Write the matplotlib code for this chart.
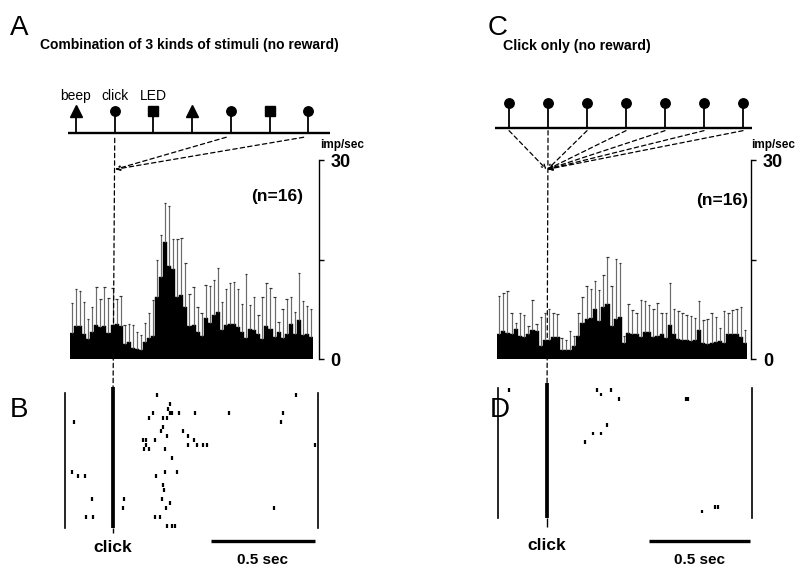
import numpy as np
import matplotlib
matplotlib.use("Agg")
import matplotlib.pyplot as plt
from matplotlib.patches import ConnectionPatch

plt.rcParams['font.family'] = ['Liberation Sans', 'DejaVu Sans']

# ---------------- data ----------------
BIN = 0.02  # s
# stimulus sequences (order of presentation)
stim_A = ['beep', 'click', 'LED', 'beep', 'click', 'LED', 'click']
stim_C = ['click'] * 7
stim_labels_A = ['beep', 'click', 'LED']

# mean firing rate (imp/sec) per 20-ms bin, panel A (combination) and C (click only)
rate_A = [3.9, 5.0, 5.0, 3.8, 3.0, 4.1, 5.1, 4.8, 4.9, 3.9, 5.1, 5.3, 5.0, 2.3, 2.6, 1.6, 1.5, 1.4, 2.5, 3.1, 3.4,
          9.3, 12.4, 17.7, 14.0, 13.6, 9.4, 9.6, 7.8, 5.0, 5.1, 4.1, 3.4, 6.2, 5.4, 6.6, 7.1, 4.3, 5.1, 5.3, 5.3, 4.8,
          4.0, 3.1, 4.5, 4.4, 3.8, 3.0, 5.0, 4.5, 3.3, 4.1, 3.1, 3.8, 5.3, 3.8, 5.9, 3.6, 3.8, 3.3]
upper_A = [8.4, 10.5, 10.3, 8.6, 6.1, 7.8, 10.8, 9.0, 10.8, 9.2, 10.7, 9.0, 9.5, 5.1, 5.3, 5.1, 4.0, 3.6, 5.5, 7.0, 8.9,
           14.9, 18.7, 23.5, 23.0, 18.1, 18.1, 18.3, 14.5, 9.8, 10.9, 7.8, 7.0, 11.2, 11.0, 11.9, 13.7, 8.6, 10.6, 11.5,
           11.6, 10.6, 8.3, 12.8, 8.1, 9.4, 6.6, 9.4, 11.4, 10.7, 9.3, 5.6, 7.5, 9.1, 9.3, 7.1, 13.0, 8.8, 8.0, 7.5]
rate_C = [3.7, 4.2, 3.9, 3.8, 4.5, 3.5, 3.3, 3.7, 4.3, 4.2, 2.0, 2.9, 2.9, 3.3, 3.3, 1.4, 1.3, 1.3, 2.0, 3.4,
          5.5, 6.0, 6.2, 7.5, 5.7, 7.8, 8.3, 4.9, 6.0, 6.4, 2.4, 3.9, 3.8, 3.8, 3.3, 4.0, 4.0, 3.3, 3.4, 3.7,
          3.2, 5.2, 3.8, 3.0, 2.9, 2.8, 2.7, 2.8, 4.3, 2.4, 2.2, 2.4, 2.5, 2.7, 2.4, 3.7, 3.8, 3.7, 3.3, 2.4]
upper_C = [9.5, 9.9, 10.2, 7.0, 5.4, 6.9, 6.7, 5.0, 8.9, 5.3, 6.3, 6.9, 7.5, 7.0, 6.8, 3.2, 2.8, 4.2, 3.4, 7.0,
           9.4, 11.0, 10.6, 11.7, 10.4, 12.6, 15.4, 11.0, 15.1, 14.5, 3.4, 8.3, 7.4, 7.0, 8.9, 8.7, 8.2, 7.5, 8.4, 7.0,
           6.9, 11.5, 7.5, 7.2, 7.0, 6.7, 6.5, 6.2, 8.8, 5.9, 6.0, 7.0, 6.3, 4.7, 7.2, 6.9, 7.4, 7.5, 7.8, 4.4]
t0_A, t0_C = -0.22, -0.24

# raster spikes (s from click, trial number)
spk_B_t = [0.211, 0.871, 0.271, 0.263, 0.271, 0.283, 0.316, 0.390, 0.554, 0.808, 0.189, 0.173, 0.237, 0.256,
           -0.186, 0.800, 0.237, 0.227, 0.332, 0.256, 0.356, 0.144, 0.157, 0.200, 0.386, 0.157, 0.359, 0.398,
           0.427, 0.446, 0.962, 0.148, 0.173, 0.248, 0.279, -0.197, 0.248, 0.303, -0.165, -0.133, 0.205, 0.240,
           0.243, 0.232, -0.101, 0.052, 0.271, 0.049, 0.252, 0.767, -0.129, -0.097, 0.200, 0.224, 0.259, 0.279, 0.295]
spk_B_trial = [0, 0, 2, 3, 4, 4, 4, 4, 4, 4, 4, 5, 5, 5, 6, 6, 7, 8, 8, 9, 9, 10, 10, 10, 10, 11, 11, 11, 11, 11,
               11, 12, 12, 12, 14, 17, 17, 17, 18, 18, 18, 20, 21, 23, 23, 23, 24, 25, 25, 25, 27, 27, 27, 27,
               29, 29, 29]
spk_D_t = [-0.188, 0.246, 0.315, 0.266, 0.358, 0.688, 0.700, 0.299, 0.226, 0.266, 0.188, 0.832, 0.845, 0.766]
spk_D_trial = [0, 0, 0, 1, 2, 2, 2, 8, 10, 10, 12, 27, 27, 28]
N_TRIALS = 30
SCALE_SEC = 0.5

# ---------------- layout helpers ----------------
W, H = 810, 568
fig = plt.figure(figsize=(W / 100, H / 100), dpi=100)


def rect(x0, y0, x1, y1):
    return [x0 / W, 1 - y1 / H, (x1 - x0) / W, (y1 - y0) / H]


def ftext(x, y, s, **kw):
    fig.text(x / W, 1 - y / H, s, **kw)


def clean(ax):
    for s in ax.spines.values():
        s.set_visible(False)
    ax.set_xticks([])
    ax.set_yticks([])
    ax.patch.set_visible(False)


marker_of = {'beep': '^', 'click': 'o', 'LED': 's'}
msize_of = {'beep': 8.5, 'click': 6.8, 'LED': 6.5}


def timeline(ax, kinds, xlim, marker_y, labels=None, label_y=None):
    clean(ax)
    pos = np.arange(len(kinds))
    ax.set_xlim(*xlim)
    ax.set_ylim(0, 1)
    ax.plot(xlim, [0, 0], color='black', lw=1.7, clip_on=False, solid_capstyle='butt')
    ax.vlines(pos, 0, marker_y, color='black', lw=1.3)
    for p, k in zip(pos, kinds):
        ax.plot(p, marker_y, marker=marker_of[k], ms=msize_of[k], color='black', clip_on=False)
    if labels:
        for p, lab in zip(pos, labels):
            ax.text(p, label_y, lab, ha='center', va='center', fontsize=10)
    return pos


def histo(ax, t0, rate, upper, offset):
    rate = np.asarray(rate)
    upper = np.asarray(upper)
    edges = t0 + BIN * np.arange(len(rate) + 1)
    centers = edges[:-1] + BIN / 2
    ax.bar(edges[:-1], rate, width=BIN, align='edge', color='black', edgecolor='black', linewidth=0.3)
    ax.vlines(centers, rate, upper, color='0.42', lw=0.85)
    ax.hlines(upper, centers - BIN * 0.3, centers + BIN * 0.3, color='0.2', lw=0.85)
    ax.set_xlim(edges[0], edges[-1])
    ax.set_ylim(0, 30)
    for k in ['left', 'top', 'bottom']:
        ax.spines[k].set_visible(False)
    ax.spines['right'].set_position(('outward', offset))
    ax.spines['right'].set_linewidth(1.0)
    ax.patch.set_visible(False)
    ax.set_xticks([])
    ax.yaxis.tick_right()
    ax.set_yticks([0, 15, 30])
    ax.set_yticklabels(['0', '', '30'], fontweight='bold', fontsize=13)
    ax.tick_params(axis='y', direction='out', length=3.5, width=1.0, pad=5)


def raster(ax, xlim, times, trials, y0_px, y1_px, click_top_px, click_bottom_px, click_label_px):
    clean(ax)
    ax.set_xlim(*xlim)
    ax.set_ylim(N_TRIALS - 0.5, -0.5)
    per_px = N_TRIALS / (y1_px - y0_px)

    def ydata(px):
        return -0.5 + (px - y0_px) * per_px

    trials = np.asarray(trials)
    ax.vlines(times, trials - 0.45, trials + 0.45, color='black', lw=1.6)
    for xv in xlim:
        ax.plot([xv, xv], [-0.5, N_TRIALS - 0.5], color='black', lw=1.2, clip_on=False)
    ax.plot([0, 0], [ydata(click_top_px), N_TRIALS - 0.5], color='black', lw=2.7, clip_on=False,
            solid_capstyle='butt')
    ax.plot([0, 0], [N_TRIALS - 0.5, ydata(click_bottom_px)], color='black', lw=1.0, clip_on=False,
            solid_capstyle='butt')
    # scale bar
    end = xlim[1] - 0.012
    ax.plot([end - SCALE_SEC, end], [ydata(541), ydata(541)], color='black', lw=2.4,
            clip_on=False, solid_capstyle='butt')
    ax.text(end - SCALE_SEC / 2, ydata(560), '0.5 sec', ha='center', va='center',
            fontsize=11, fontweight='bold')
    ax.text(0, ydata(click_label_px), 'click', ha='center', va='center', fontsize=12.5, fontweight='bold')


# ---------------- panel A / B ----------------
axTA = fig.add_axes(rect(68, 80, 330, 133))
posA = timeline(axTA, stim_A, (-0.207, 6.56), 0.41, stim_labels_A, 0.69)

axHA = fig.add_axes(rect(70, 160, 313, 359))
histo(axHA, t0_A, rate_A, upper_A, 4)

axRB = fig.add_axes(rect(65, 393, 318, 528))
raster(axRB, (-0.229, 0.976), spk_B_t, spk_B_trial, 393, 528, 387, 533, 548)

# ---------------- panel C / D ----------------
axTC = fig.add_axes(rect(495, 75, 752, 128))
posC = timeline(axTC, stim_C, (-0.36, 6.23), 0.47)

axHC = fig.add_axes(rect(497, 160, 747, 359))
histo(axHC, t0_C, rate_C, upper_C, 3)

axRD = fig.add_axes(rect(498, 388, 752, 518))
raster(axRD, (-0.243, 1.015), spk_D_t, spk_D_trial, 388, 518, 383, 527, 546)

# ---------------- connectors (dashed) ----------------
DASH = (0, (3.5, 2.5))
CONV_Y = 28.6


def connector(axA, xyA, axB, xyB, arrow=False):
    con = ConnectionPatch(xyA=xyA, coordsA=axA.transData, xyB=xyB, coordsB=axB.transData,
                          arrowstyle='->' if arrow else '-', mutation_scale=7,
                          linestyle=DASH, lw=0.9, color='black', shrinkA=0, shrinkB=0)
    fig.add_artist(con)


click_idx_A = [i for i, k in enumerate(stim_A) if k == 'click']
connector(axTA, (posA[click_idx_A[0]], -0.1), axRB, (0, -1.6))
for i in click_idx_A[1:]:
    connector(axTA, (posA[i] - 0.12, -0.08), axHA, (0.004, CONV_Y), arrow=True)

connector(axTC, (posC[1], -0.05), axRD, (0, -1.4))
for i in range(len(stim_C)):
    if i == 1:
        continue
    connector(axTC, (posC[i], -0.05), axHC, (0.003 if i > 1 else -0.003, CONV_Y), arrow=True)

# ---------------- texts ----------------
ftext(10, 28, 'A', fontsize=20, va='center')
ftext(40, 45, 'Combination of 3 kinds of stimuli (no reward)', fontsize=10, fontweight='bold', va='center')
ftext(488, 28, 'C', fontsize=20, va='center')
ftext(503, 46, 'Click only (no reward)', fontsize=10.2, fontweight='bold', va='center')
ftext(10, 410, 'B', fontsize=20, va='center')
ftext(490, 410, 'D', fontsize=20, va='center')

ftext(320, 145, 'imp/sec', fontsize=8.5, fontweight='bold', va='center')
ftext(751, 145, 'imp/sec', fontsize=8.5, fontweight='bold', va='center')
ftext(303, 196, '(n=16)', fontsize=12.5, fontweight='bold', va='center', ha='right')
ftext(748, 200, '(n=16)', fontsize=12.5, fontweight='bold', va='center', ha='right')

fig.savefig('out.png', dpi=100)
